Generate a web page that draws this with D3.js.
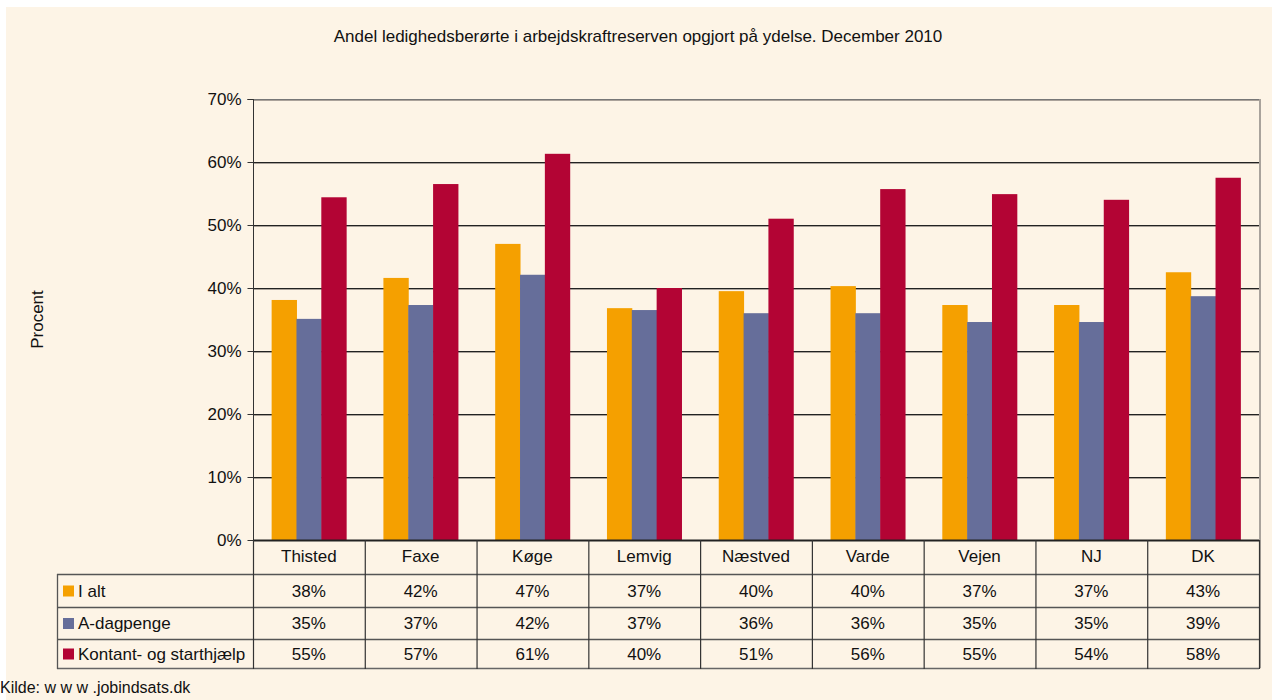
<!DOCTYPE html>
<html><head><meta charset="utf-8">
<script src="https://cdn.jsdelivr.net/npm/d3@7"></script>
<style>
html,body{margin:0;padding:0;background:#fff;}
svg{display:block;font-family:"Liberation Sans",Arial,sans-serif;}
</style></head>
<body>
<script>
const categories = ["Thisted","Faxe","Køge","Lemvig","Næstved","Varde","Vejen","NJ","DK"];
const seriesNames = ["I alt","A-dagpenge","Kontant- og starthjælp"];
const iAlt       = [38.1, 41.6, 47.0, 36.8, 39.5, 40.3, 37.3, 37.3, 42.5];
const aDagpenge  = [35.1, 37.3, 42.1, 36.5, 36.0, 36.0, 34.6, 34.6, 38.7];
const kontant    = [54.4, 56.5, 61.3, 40.0, 51.0, 55.7, 54.9, 54.0, 57.5];
const tableILalt   = ["38%","42%","47%","37%","40%","40%","37%","37%","43%"];
const tableADag    = ["35%","37%","42%","37%","36%","36%","35%","35%","39%"];
const tableKontant = ["55%","57%","61%","40%","51%","56%","55%","54%","58%"];
const yTicks = [0,10,20,30,40,50,60,70];
const title = "Andel ledighedsberørte i arbejdskraftreserven opgjort på ydelse. December 2010";
const yLabel = "Procent";
const source = "Kilde: w w w .jobindsats.dk";

(function(){
const colors = ["#f5a000","#666e9a","#b30434"];
const series = [iAlt, aDagpenge, kontant];
const tableRows = [tableILalt, tableADag, tableKontant];
const FS = 17;

const W = 1272, H = 700;
const svg = d3.select("body").append("svg").attr("width", W).attr("height", H);
svg.append("rect").attr("x",0).attr("y",0).attr("width",W).attr("height",H).attr("fill","#fff");
svg.append("rect").attr("x",6).attr("y",7).attr("width",W-6).attr("height",H-7).attr("fill","#fdf4e6");

const pL = 253, pR = 1259, pT = 99, pB = 540;
const x = d3.scaleBand().domain(categories).range([pL, pR]).padding(0);
const y = d3.scaleLinear().domain([0, 70]).range([pB, pT]);
const bw = x.bandwidth() / 4.5;

svg.append("text").attr("x", 638).attr("y", 42).attr("text-anchor","middle")
  .attr("font-size", FS).attr("fill","#111").text(title);

const grid = svg.append("g");
yTicks.filter(t => t > 0).forEach(t => {
  grid.append("line").attr("x1", pL).attr("x2", pR).attr("y1", y(t)+1.5).attr("y2", y(t)+1.5)
    .attr("stroke","#aaa29a").attr("stroke-width",1);
  grid.append("line").attr("x1", pL).attr("x2", pR).attr("y1", y(t)+0.5).attr("y2", y(t)+0.5)
    .attr("stroke", t === 70 ? "#777" : "#222").attr("stroke-width",1);
});
svg.append("line").attr("x1", pR+1).attr("x2", pR+1).attr("y1", pT).attr("y2", 668)
  .attr("stroke","#a9a39c").attr("stroke-width",2);

categories.forEach((c, i) => {
  series.forEach((s, k) => {
    const x0 = x(c) + (x.bandwidth() - 3*bw)/2 + k*bw;
    svg.append("rect").attr("x", x0).attr("y", y(s[i])).attr("width", bw + 0.5)
      .attr("height", y(0) - y(s[i])).attr("fill", colors[k]);
  });
});

const yAxis = d3.axisLeft(y).tickValues(yTicks).tickFormat(d => d + "%").tickSize(6).tickPadding(6);
const ya = svg.append("g").attr("transform", `translate(${pL+0.5},0)`).call(yAxis);
ya.select(".domain").attr("stroke","#333").attr("d", `M-6,${pT+0.5}H0V${pB}`);
ya.selectAll(".tick line").attr("stroke","#333");
ya.selectAll(".tick text").attr("font-size", FS).attr("fill","#111")
  .attr("font-family","Liberation Sans, Arial, sans-serif").attr("dy","0.3em");

svg.append("text").attr("transform", `translate(43,${(pT+pB)/2}) rotate(-90)`)
  .attr("text-anchor","middle").attr("font-size", FS).attr("fill","#111").text(yLabel);

const tableLeft = 57;
const rowY = [540, 574, 607, 639, 668];
const tg = svg.append("g");
tg.append("line").attr("x1", pL).attr("x2", pR).attr("y1", 540.5).attr("y2", 540.5).attr("stroke","#222").attr("stroke-width",2);
[1,2,3].forEach(r => {
  tg.append("line").attr("x1", tableLeft).attr("x2", pR).attr("y1", rowY[r]+0.5).attr("y2", rowY[r]+0.5)
    .attr("stroke","#555").attr("stroke-width",1.3);
});
tg.append("line").attr("x1", tableLeft).attr("x2", pR).attr("y1", rowY[4]+0.5).attr("y2", rowY[4]+0.5)
  .attr("stroke","#666").attr("stroke-width",1.5);
tg.append("line").attr("x1", tableLeft+0.5).attr("x2", tableLeft+0.5).attr("y1", rowY[1]).attr("y2", rowY[4]+1)
  .attr("stroke","#555").attr("stroke-width",1.3);
categories.forEach(c => {
  tg.append("line").attr("x1", x(c)+0.5).attr("x2", x(c)+0.5).attr("y1", 540).attr("y2", rowY[4]+1)
    .attr("stroke","#333").attr("stroke-width",1.2);
});
tg.append("line").attr("x1", pR+0.5).attr("x2", pR+0.5).attr("y1", 540).attr("y2", rowY[4]+1)
  .attr("stroke","#333").attr("stroke-width",1.2);
categories.forEach(c => {
  tg.append("text").attr("x", x(c) + x.bandwidth()/2).attr("y", 562).attr("text-anchor","middle")
    .attr("font-size", FS).attr("fill","#111").text(c);
});
seriesNames.forEach((n, r) => {
  const cy = (rowY[r+1] + rowY[r+2]) / 2;
  tg.append("rect").attr("x", 63).attr("y", cy - 5).attr("width", 11).attr("height", 11).attr("fill", colors[r]);
  tg.append("text").attr("x", 78).attr("y", cy + 6).attr("font-size", FS).attr("fill","#111").text(n);
  categories.forEach((c, i) => {
    tg.append("text").attr("x", x(c) + x.bandwidth()/2).attr("y", cy + 6).attr("text-anchor","middle")
      .attr("font-size", FS).attr("fill","#111").text(tableRows[r][i]);
  });
});

svg.append("text").attr("x", 0).attr("y", 693).attr("font-size", 16).attr("fill","#111").text(source);
})();
</script>
</body></html>
